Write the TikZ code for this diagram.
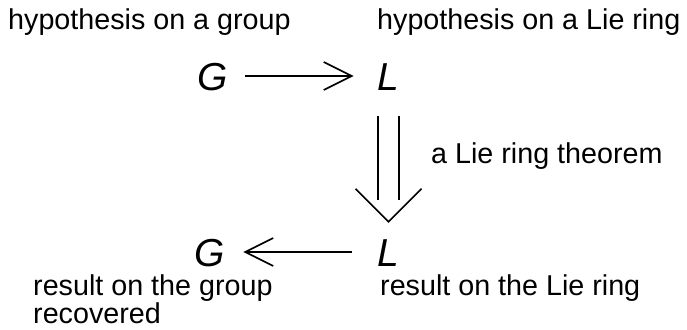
\documentclass[tikz,border=0pt]{standalone}
\usepackage{fontspec}
\setmainfont{Liberation Sans}
\usetikzlibrary{arrows.meta}
\begin{document}
\begin{tikzpicture}[x=1pt,y=1pt,
  lbl/.style={anchor=base west, inner sep=0pt, font=\fontsize{28.7}{31}\selectfont},
  sym/.style={anchor=base west, inner xsep=0pt, inner ysep=0pt, text height=28pt, text depth=0pt, font=\fontsize{39}{42}\selectfont\itshape},
  ln/.style={line width=1.6pt},
  arr/.style={ln, -{Straight Barb[length=28pt,width=28pt,line width=1.6pt]}}]
\useasboundingbox (0,0) rectangle (687,-329);
\node[lbl] (hg) at (8,-30) {hypothesis on a group};
\node[lbl] (hl) at (377,-30) {hypothesis on a Lie ring};
\node[sym] (G1) at (197,-90) {G};
\node[sym] (L1) at (377.5,-90) {L};
\node[sym] (G2) at (194,-266) {G};
\node[sym] (L2) at (377.5,-266) {L};
\node[lbl] (thm) at (431,-163) {a Lie ring theorem};
\node[lbl] (rg) at (33,-295) {result on the group};
\node[lbl] (rc) at (33,-323.5) {recovered};
\node[lbl] (rl) at (380,-295) {result on the Lie ring};
\draw[arr, shorten <=17.7pt, shorten >=24pt] (G1.east) -- (L1.west);
\draw[arr, shorten <=25.5pt, shorten >=18.7pt] (L2.west) -- (G2.east);
\draw[ln] ([xshift=-10.5pt,yshift=-26pt]L1.south) -- ([xshift=-10.5pt,yshift=38pt]L2.north);
\draw[ln] ([xshift=10.5pt,yshift=-26pt]L1.south) -- ([xshift=10.5pt,yshift=38pt]L2.north);
\draw[ln] ([xshift=-33pt,yshift=49pt]L2.north) -- ([yshift=16pt]L2.north) -- ([xshift=33pt,yshift=49pt]L2.north);
\end{tikzpicture}
\end{document}
